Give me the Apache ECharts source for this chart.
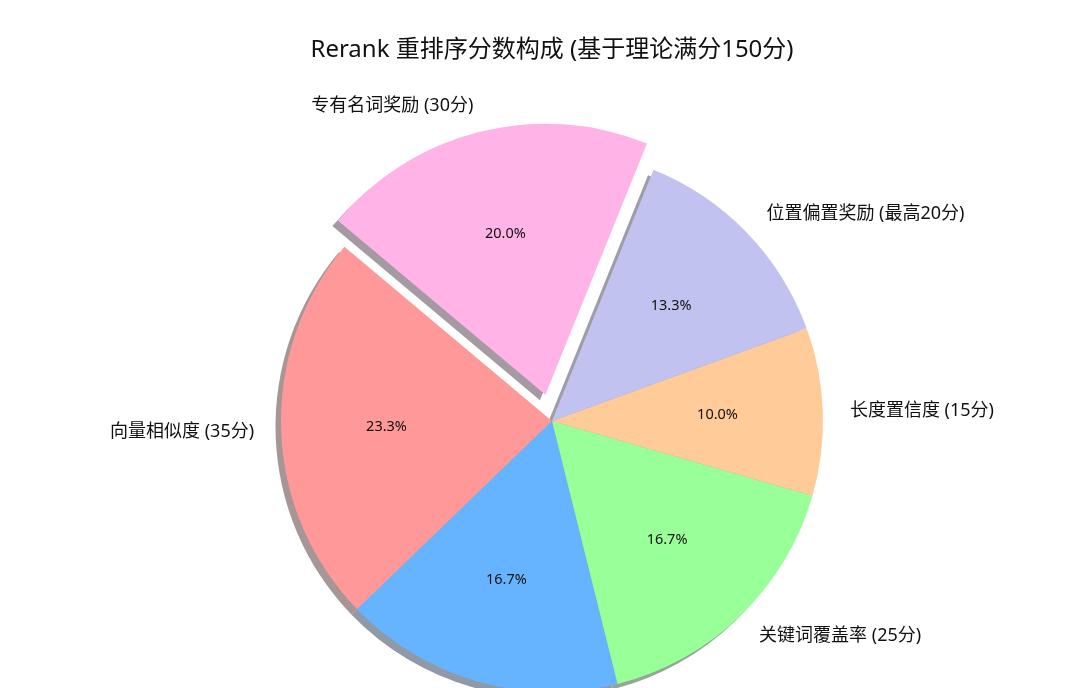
<!DOCTYPE html>
<html><head><meta charset="utf-8">
<script src="https://cdn.jsdelivr.net/npm/echarts@6/dist/echarts.min.js"></script>
<style>html,body{margin:0;padding:0;background:#fff}#c{width:1080px;height:688px}</style>
</head><body><div id="c"></div>
<script>
const titleText = 'Rerank 重排序分数构成 (基于理论满分150分)';
const categories = ['向量相似度 (35分)', 'BM25 关键词得分 (25分)', '关键词覆盖率 (25分)', '长度置信度 (15分)', '位置偏置奖励 (最高20分)', '专有名词奖励 (30分)'];
const scores = [35, 25, 25, 15, 20, 30];
const colors = ['#ff9999', '#66b3ff', '#99ff99', '#ffcc99', '#c2c2f0', '#ffb3e6'];
const explodedIndex = 5;

const FONT = '"Noto Sans", "Noto Sans CJK SC", sans-serif';
const CX = 552, CY = 421, R = 271;
const OFF = R * 0.1;
const SH = 5.5;

function shadowColor(hex) {
  const r = parseInt(hex.slice(1,3),16)/255, g = parseInt(hex.slice(3,5),16)/255, b = parseInt(hex.slice(5,7),16)/255;
  const f = v => Math.round((0.3*v*0.5 + 0.5)*255);
  return 'rgb(' + f(r) + ',' + f(g) + ',' + f(b) + ')';
}
const total = scores.reduce((a,b)=>a+b,0);

function mkData(colorFn) {
  return categories.map((n,i)=>({name:n, value:scores[i], selected: i===explodedIndex, itemStyle:{color: colorFn(i)}}));
}
const common = {
  type:'pie', center:[CX,CY], startAngle:140, clockwise:false,
  selectedMode:'single', selectedOffset:OFF, avoidLabelOverlap:false,
  silent:true, animation:false, emphasis:{disabled:true},
  labelLine:{show:false}
};
const chart = echarts.init(document.getElementById('c'));
chart.setOption({
  backgroundColor:'#fff',
  animation:false,
  title:{text:titleText, left:547, textAlign:'center', top:33, textStyle:{fontFamily:FONT, fontSize:24, fontWeight:'normal', color:'#111'}},
  series:[
    Object.assign({}, common, {
      name:'shadow', center:[CX-SH, CY+SH], radius:[0,R], z:1,
      label:{show:false}, data: mkData(i=>shadowColor(colors[i]))
    }),
    Object.assign({}, common, {
      name:'main', radius:[0,R], z:2,
      label:{show:true, position:'outside', formatter:'{b}', fontFamily:FONT, fontSize:18, color:'#111', distanceToLabelLine:0},
      labelLine:{show:false, length:R*0.1, length2:0},
      data: mkData(i=>colors[i])
    }),
    Object.assign({}, common, {
      name:'pct', radius:[R*0.2,R], z:3,
      label:{show:true, position:'inside', formatter:p=>(p.value/total*100).toFixed(1)+'%', fontFamily:FONT, fontSize:14.5, color:'#111'},
      data: mkData(i=>'rgba(0,0,0,0)')
    })
  ]
});
</script></body></html>
